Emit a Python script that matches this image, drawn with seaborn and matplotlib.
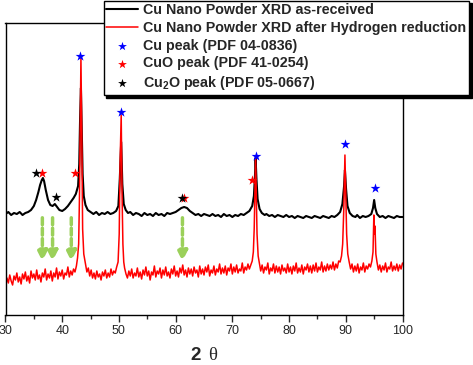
import numpy as np
import pandas as pd
import seaborn as sns
import matplotlib
matplotlib.use('Agg')
import matplotlib.pyplot as plt

# XRD patterns (2theta in degrees, intensity in arbitrary units)
as_received = [
    (30.0, 100), (30.5, 102), (31.0, 99), (31.5, 101), (32.0, 100), (32.5, 102), (33.0, 99),
    (33.5, 101), (34.0, 102), (34.5, 104), (35.0, 108), (35.4, 114), (35.8, 122), (36.1, 129),
    (36.4, 134), (36.6, 136), (36.8, 133), (37.1, 124), (37.5, 114), (37.9, 109), (38.3, 108),
    (38.7, 110), (39.1, 107), (39.5, 104), (40.0, 103), (40.5, 105), (41.0, 108), (41.5, 112),
    (42.0, 116), (42.4, 120), (42.8, 128), (43.0, 150), (43.15, 195), (43.3, 226), (43.45, 185),
    (43.6, 140), (43.8, 118), (44.1, 109), (44.5, 104), (45.0, 102), (45.5, 100), (46.0, 102),
    (46.5, 99), (47.0, 101), (47.5, 100), (48.0, 102), (48.5, 100), (49.0, 101), (49.5, 103),
    (49.9, 108), (50.15, 135), (50.4, 172), (50.6, 130), (50.85, 110), (51.2, 104), (51.6, 101),
    (52.0, 102), (52.5, 99), (53.0, 101), (53.5, 100), (54.0, 98), (54.5, 101), (55.0, 99),
    (55.5, 100), (56.0, 98), (56.5, 101), (57.0, 99), (57.5, 100), (58.0, 98), (58.5, 101),
    (59.0, 100), (59.5, 101), (60.0, 102), (60.5, 104), (61.0, 106), (61.5, 107), (62.0, 106),
    (62.5, 103), (63.0, 101), (63.5, 99), (64.0, 100), (64.5, 98), (65.0, 100), (65.5, 99),
    (66.0, 98), (66.5, 100), (67.0, 98), (67.5, 99), (68.0, 97), (68.5, 100), (69.0, 98),
    (69.5, 99), (70.0, 97), (70.5, 99), (71.0, 98), (71.5, 100), (72.0, 99), (72.5, 101),
    (73.0, 103), (73.5, 108), (73.8, 118), (74.0, 140), (74.1, 156), (74.25, 135), (74.45, 115),
    (74.8, 105), (75.2, 101), (75.7, 99), (76.0, 100), (76.5, 98), (77.0, 99), (77.5, 97),
    (78.0, 99), (78.5, 98), (79.0, 97), (79.5, 99), (80.0, 97), (80.5, 98), (81.0, 96),
    (81.5, 98), (82.0, 97), (82.5, 96), (83.0, 98), (83.5, 97), (84.0, 96), (84.5, 98),
    (85.0, 97), (85.5, 96), (86.0, 98), (86.5, 97), (87.0, 96), (87.5, 98), (88.0, 97),
    (88.5, 99), (89.0, 102), (89.4, 110), (89.7, 128), (89.85, 144), (90.05, 125), (90.3, 108),
    (90.7, 101), (91.2, 98), (91.7, 97), (92.0, 99), (92.5, 96), (93.0, 98), (93.5, 97),
    (94.0, 98), (94.5, 100), (94.8, 106), (95.0, 114), (95.2, 106), (95.5, 100), (96.0, 97),
    (96.5, 98), (97.0, 96), (97.5, 98), (98.0, 97), (98.5, 96), (99.0, 98), (99.5, 97), (100.0, 97),
]

h2_reduced = [
    (30.0, 28), (30.25, 36), (30.5, 31), (30.75, 39), (31.0, 33), (31.25, 29), (31.5, 38),
    (31.75, 34), (32.0, 41), (32.25, 32), (32.5, 37), (32.75, 30), (33.0, 40), (33.25, 35),
    (33.5, 42), (33.75, 33), (34.0, 38), (34.25, 31), (34.5, 43), (34.75, 36), (35.0, 40),
    (35.25, 34), (35.5, 44), (35.75, 35), (36.0, 39), (36.25, 32), (36.5, 41), (36.75, 37),
    (37.0, 45), (37.25, 34), (37.5, 40), (37.75, 36), (38.0, 43), (38.25, 33), (38.5, 41),
    (38.75, 37), (39.0, 46), (39.25, 35), (39.5, 42), (39.75, 38), (40.0, 44), (40.25, 35),
    (40.5, 41), (40.75, 39), (41.0, 47), (41.25, 37), (41.5, 43), (41.75, 39), (42.0, 45),
    (42.25, 42), (42.5, 48), (42.7, 56), (42.9, 70), (43.05, 120), (43.3, 256), (43.45, 180),
    (43.6, 85), (43.8, 60), (44.1, 50), (44.35, 42), (44.6, 46), (44.85, 38), (45.1, 44),
    (45.35, 36), (45.6, 41), (45.85, 35), (46.1, 43), (46.35, 37), (46.6, 40), (46.85, 34),
    (47.1, 42), (47.35, 38), (47.6, 44), (47.85, 36), (48.1, 41), (48.35, 37), (48.6, 45),
    (48.85, 39), (49.1, 43), (49.35, 41), (49.6, 47), (49.85, 52), (50.05, 80), (50.2, 150),
    (50.4, 199), (50.55, 120), (50.7, 70), (50.85, 52), (51.0, 46), (51.25, 40), (51.5, 36),
    (51.75, 43), (52.0, 38), (52.25, 45), (52.5, 36), (52.75, 41), (53.0, 38), (53.25, 46),
    (53.5, 37), (53.75, 42), (54.0, 35), (54.25, 44), (54.5, 39), (54.75, 47), (55.0, 38),
    (55.25, 43), (55.5, 34), (55.75, 42), (56.0, 39), (56.25, 48), (56.5, 37), (56.75, 43),
    (57.0, 40), (57.25, 46), (57.5, 36), (57.75, 44), (58.0, 39), (58.25, 47), (58.5, 38),
    (58.75, 42), (59.0, 36), (59.25, 45), (59.5, 40), (59.75, 48), (60.0, 38), (60.25, 43),
    (60.5, 37), (60.75, 46), (61.0, 41), (61.25, 49), (61.5, 39), (61.75, 44), (62.0, 37),
    (62.25, 46), (62.5, 40), (62.75, 45), (63.0, 38), (63.25, 47), (63.5, 41), (63.75, 44),
    (64.0, 37), (64.25, 48), (64.5, 40), (64.75, 45), (65.0, 39), (65.25, 47), (65.5, 42),
    (65.75, 49), (66.0, 38), (66.25, 44), (66.5, 41), (66.75, 48), (67.0, 39), (67.25, 45),
    (67.5, 42), (67.75, 50), (68.0, 40), (68.25, 46), (68.5, 41), (68.75, 48), (69.0, 39),
    (69.25, 46), (69.5, 43), (69.75, 50), (70.0, 40), (70.25, 47), (70.5, 42), (70.75, 49),
    (71.0, 41), (71.25, 45), (71.5, 43), (71.75, 51), (72.0, 41), (72.25, 47), (72.5, 44),
    (72.75, 50), (73.0, 45), (73.25, 49), (73.5, 53), (73.7, 62), (73.85, 85), (74.0, 130),
    (74.1, 157), (74.2, 125), (74.35, 80), (74.55, 58), (74.8, 50), (75.0, 43), (75.25, 49),
    (75.5, 41), (75.75, 47), (76.0, 44), (76.25, 51), (76.5, 40), (76.75, 46), (77.0, 43),
    (77.25, 50), (77.5, 41), (77.75, 48), (78.0, 42), (78.25, 47), (78.5, 40), (78.75, 49),
    (79.0, 43), (79.25, 46), (79.5, 41), (79.75, 50), (80.0, 42), (80.25, 47), (80.5, 40),
    (80.75, 48), (81.0, 43), (81.25, 51), (81.5, 41), (81.75, 46), (82.0, 42), (82.25, 49),
    (82.5, 40), (82.75, 47), (83.0, 44), (83.25, 50), (83.5, 42), (83.75, 48), (84.0, 41),
    (84.25, 49), (84.5, 43), (84.75, 51), (85.0, 42), (85.25, 47), (85.5, 44), (85.75, 52),
    (86.0, 42), (86.25, 48), (86.5, 43), (86.75, 50), (87.0, 44), (87.25, 49), (87.5, 45),
    (87.75, 52), (88.0, 44), (88.25, 50), (88.5, 46), (88.75, 53), (89.0, 52), (89.25, 58),
    (89.45, 70), (89.65, 105), (89.85, 159), (90.0, 118), (90.15, 80), (90.35, 60), (90.6, 52),
    (90.85, 45), (91.1, 50), (91.35, 42), (91.6, 48), (91.85, 43), (92.1, 50), (92.35, 41),
    (92.6, 47), (92.85, 44), (93.1, 51), (93.35, 42), (93.6, 48), (93.85, 45), (94.1, 50),
    (94.35, 47), (94.6, 53), (94.8, 62), (94.95, 99), (95.05, 80), (95.15, 88), (95.3, 60),
    (95.5, 52), (95.75, 44), (96.0, 49), (96.25, 42), (96.5, 48), (96.75, 44), (97.0, 51),
    (97.25, 42), (97.5, 47), (97.75, 45), (98.0, 52), (98.25, 43), (98.5, 48), (98.75, 44),
    (99.0, 50), (99.25, 43), (99.5, 49), (99.75, 45), (100.0, 51),
]

# peak markers (2theta, height of star)
cu_2theta = [43.2, 50.4, 74.1, 89.9, 95.1]
cu_height = [258, 202, 158, 170, 126]
cuo_2theta = [36.5, 42.3, 61.4, 73.4]
cuo_height = [141, 141, 116, 134]
cu2o_2theta = [35.4, 38.9, 61.2]
cu2o_height = [141, 117, 116]

# green arrows marking vanished oxide peaks
arrow_2theta = [36.5, 38.3, 41.6, 61.2]
arrow_top = 99
arrow_bottom = 50

labels = ['Cu Nano Powder XRD as-received',
          'Cu Nano Powder XRD after Hydrogen reduction',
          'Cu peak (PDF 04-0836)',
          'CuO peak (PDF 41-0254)',
          r'Cu$_\mathbf{2}$O peak (PDF 05-0667)']

df_a = pd.DataFrame(as_received, columns=['two_theta', 'intensity'])
df_h = pd.DataFrame(h2_reduced, columns=['two_theta', 'intensity'])

sns.set_style('white')
plt.rcParams['font.family'] = ['Liberation Sans', 'DejaVu Sans']
plt.rcParams['mathtext.fontset'] = 'custom'
plt.rcParams['mathtext.rm'] = 'Liberation Sans:bold'
plt.rcParams['mathtext.bf'] = 'Liberation Sans:bold'

fig = plt.figure(figsize=(4.73, 3.65), dpi=100)
ax = fig.add_axes([5.5 / 473, 1 - 315 / 365, 397 / 473, 292 / 365])

sns.lineplot(data=df_a, x='two_theta', y='intensity', color='black', lw=1.5,
             sort=False, estimator=None, label=labels[0], ax=ax)
sns.lineplot(data=df_h, x='two_theta', y='intensity', color='red', lw=1.1,
             sort=False, estimator=None, label=labels[1], ax=ax)

for xs, ys, c, lab in [(cu_2theta, cu_height, 'blue', labels[2]),
                       (cuo_2theta, cuo_height, 'red', labels[3]),
                       (cu2o_2theta, cu2o_height, 'black', labels[4])]:
    sns.scatterplot(x=xs, y=ys, marker='*', s=55, color=c, linewidth=0,
                    label=lab, ax=ax, zorder=4)

for x in arrow_2theta:
    ax.annotate('', xy=(x, arrow_bottom), xytext=(x, arrow_top),
                arrowprops=dict(arrowstyle='-|>,head_width=0.3,head_length=0.6',
                                color='#9bd05a', lw=2.5, linestyle=(0, (2, 1))))

ax.set_xlim(30, 100)
ax.set_ylim(-1, 291)
ax.set_xticks(range(30, 101, 10))
ax.set_xticks(range(35, 100, 10), minor=True)
ax.set_yticks([])
ax.tick_params(axis='x', which='major', direction='out', length=5, width=1,
               bottom=True, labelsize=9, pad=2)
ax.tick_params(axis='x', which='minor', direction='out', length=3, width=1, bottom=True)
ax.set_xlabel('')
ax.set_ylabel('')
for s in ax.spines.values():
    s.set_color('black')
    s.set_linewidth(1)

fig.text(196 / 473, 1 - 360 / 365, '2', fontsize=13.5, fontweight='bold',
         ha='center', va='baseline')
fig.text(213 / 473, 1 - 360 / 365, 'θ', fontsize=13.5, family='Liberation Serif',
         ha='center', va='baseline')

handles, labs = ax.get_legend_handles_labels()
ax.get_legend().remove()
leg = fig.legend(handles, labs, loc='upper left', bbox_to_anchor=(103 / 473, 1.0),
                 prop={'weight': 'bold', 'size': 10.3}, frameon=True,
                 fancybox=False, shadow={'color': 'black', 'alpha': 1},
                 handlelength=2.2, handletextpad=0.4, labelspacing=0.26,
                 borderpad=0.18, borderaxespad=0.05, markerscale=0.9)
leg.get_frame().set_edgecolor('black')
leg.get_frame().set_linewidth(1)

fig.savefig('out.png', dpi=100)
